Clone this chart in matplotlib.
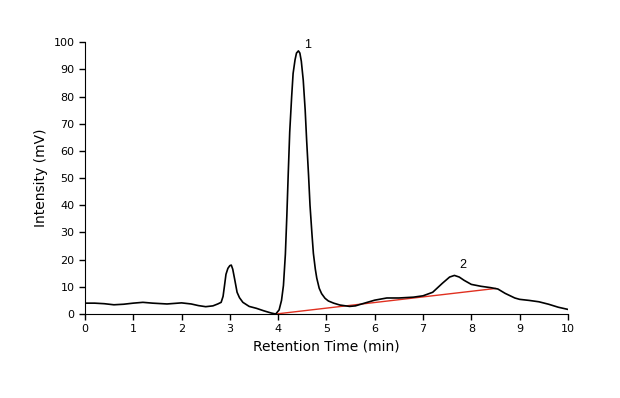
import matplotlib
matplotlib.use("Agg")
import matplotlib.pyplot as plt

# chromatogram trace (min, mV)
time_min = [0.00, 0.20, 0.40, 0.60, 0.80, 1.00, 1.20, 1.40, 1.70, 2.00, 2.20,
            2.35, 2.50, 2.65, 2.75, 2.82, 2.86, 2.89, 2.92, 2.96, 3.00, 3.03,
            3.06, 3.10, 3.15, 3.20, 3.27, 3.40, 3.55, 3.70, 3.85, 3.95, 4.02,
            4.07, 4.11, 4.15, 4.18, 4.21, 4.24, 4.28, 4.31, 4.35, 4.38, 4.42,
            4.45, 4.48, 4.52, 4.56, 4.59, 4.63, 4.66, 4.70, 4.73, 4.77, 4.80,
            4.85, 4.90, 4.97, 5.04, 5.15, 5.28, 5.48, 5.60, 5.75, 6.00, 6.25,
            6.50, 6.80, 7.00, 7.20, 7.40, 7.55, 7.65, 7.75, 7.85, 8.00, 8.20,
            8.40, 8.55, 8.70, 8.90, 9.00, 9.20, 9.40, 9.60, 9.80, 10.00]
intensity_mv = [4.0, 4.0, 3.8, 3.4, 3.6, 4.0, 4.3, 4.0, 3.7, 4.1, 3.7,
                3.1, 2.7, 3.0, 3.7, 4.3, 6.5, 10.5, 14.6, 16.8, 17.8, 18.0,
                16.5, 12.8, 8.0, 6.0, 4.3, 2.8, 2.1, 1.2, 0.4, 0.0, 1.5,
                5.0, 10.5, 22.0, 36.0, 52.0, 67.0, 80.0, 88.5, 93.5, 96.0, 96.8,
                96.0, 93.0, 86.0, 75.0, 64.0, 51.0, 40.0, 29.5, 22.3, 16.5, 13.2,
                9.5, 7.5, 5.8, 4.8, 4.0, 3.3, 2.8, 3.0, 3.8, 5.1, 5.9,
                5.9, 6.2, 6.7, 8.0, 11.3, 13.6, 14.2, 13.6, 12.4, 10.9, 10.2,
                9.7, 9.2, 7.6, 5.9, 5.4, 5.0, 4.5, 3.6, 2.5, 1.7]

# integration baseline under peaks 1 and 2
baseline_t = [3.95, 8.50]
baseline_mv = [0.0, 9.4]

peak_labels = ["1", "2"]
peak_label_t = [4.60, 7.83]
peak_label_mv = [98.8, 18.0]

fig = plt.figure(figsize=(6.2, 3.98), dpi=100)
ax = fig.add_axes([0.137, 0.211, 0.779, 0.683])

ax.plot(baseline_t, baseline_mv, color="#e03020", linewidth=1.0, zorder=2)
ax.plot(time_min, intensity_mv, color="black", linewidth=1.2, zorder=3)

for lab, t, v in zip(peak_labels, peak_label_t, peak_label_mv):
    ax.text(t, v, lab, fontsize=9, family="Liberation Sans",
            ha="center", va="center")

ax.set_xlim(0, 10)
ax.set_ylim(0, 100)
ax.set_xticks(range(0, 11))
ax.set_yticks(range(0, 101, 10))
ax.spines["top"].set_visible(False)
ax.spines["right"].set_visible(False)
ax.tick_params(direction="out", length=4, width=1, labelsize=8)
ax.set_xlabel("Retention Time (min)", fontsize=10)
ax.set_ylabel("Intensity (mV)", fontsize=10)

fig.savefig("out.png", dpi=100)
